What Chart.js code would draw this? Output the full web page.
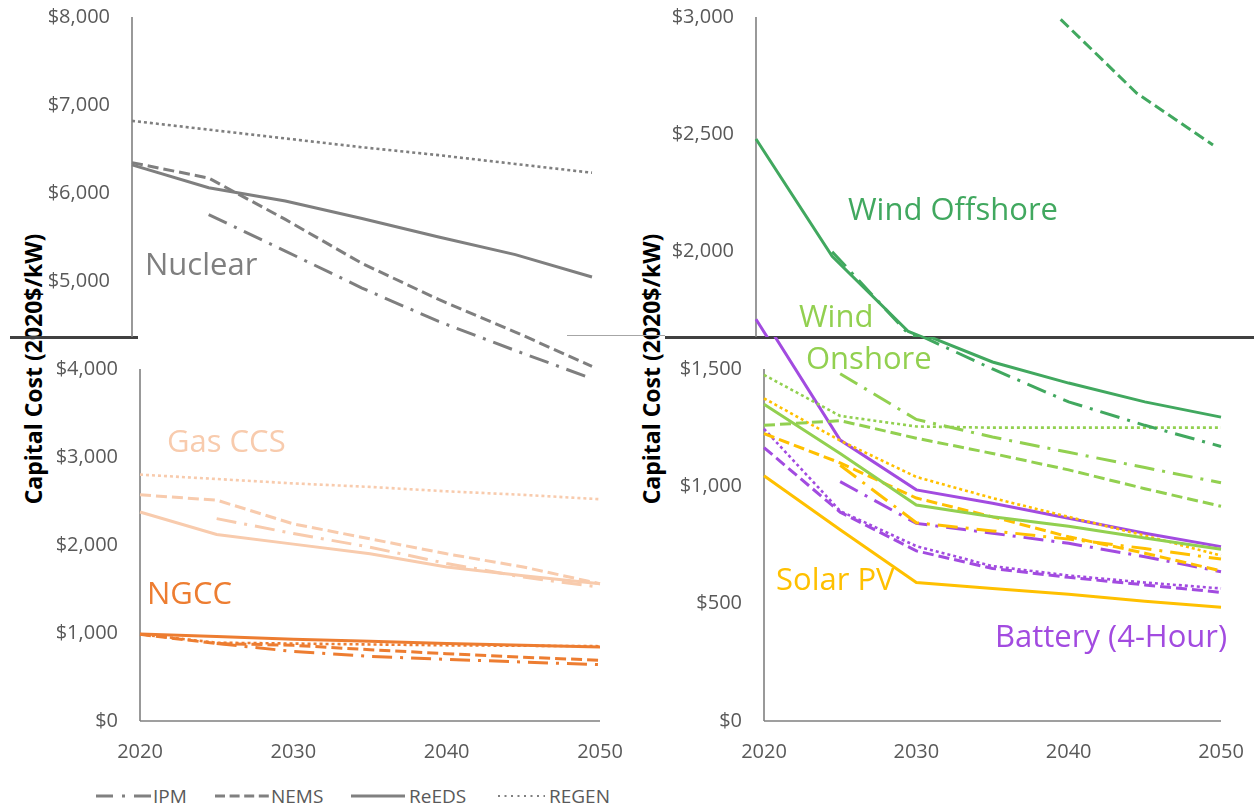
<!DOCTYPE html>
<html>
<head>
<meta charset="utf-8">
<script src="https://cdn.jsdelivr.net/npm/chart.js@4.4.1/dist/chart.umd.min.js"></script>
<style>
  body { margin: 0; background: #fff; }
  #page { position: relative; width: 1254px; height: 807px; overflow: hidden; font-family: 'Open Sans', sans-serif; }
  canvas { position: absolute; top: 0; z-index: 3; }
  .lbl { position: absolute; z-index: 4; font-size: 31px; line-height: 31px; white-space: nowrap; }
  .ytitle { position: absolute; z-index: 1; width: 400px; height: 24px; line-height: 24px; text-align: center;
            font-weight: bold; font-size: 23px; color: #000; transform: rotate(-90deg); }
  .brk { position: absolute; z-index: 2; }
  .leg { position: absolute; z-index: 4; top: 785px; font-size: 19px; line-height: 22px; color: #595959; }
  .legline { position: absolute; z-index: 4; top: 791px; }
</style>
</head>
<body>
<div id="page">
  <div class="ytitle" style="left:-167px; top:357px;">Capital Cost (2020$/kW)</div>
  <div class="ytitle" style="left:451px; top:357px;">Capital Cost (2020$/kW)</div>

  <div class="brk" style="left:10px; top:336px; width:128px; height:3px; background:#404040;"></div>
  <div class="brk" style="left:567px; top:335px; width:98px; height:1px; background:#a6a6a6;"></div>
  <div class="brk" style="left:665px; top:336px; width:589px; height:3px; background:#404040;"></div>

  <canvas id="leftBottom" width="630" height="770" style="left:0;"></canvas>
  <canvas id="leftTop" width="630" height="770" style="left:0;"></canvas>
  <canvas id="rightBottom" width="624" height="770" style="left:630px;"></canvas>
  <canvas id="rightTop" width="624" height="770" style="left:630px;"></canvas>

  <div class="lbl" style="left:145px; top:248px; color:#7f7f7f;">Nuclear</div>
  <div class="lbl" style="left:167px; top:425px; color:#f8cbad;">Gas CCS</div>
  <div class="lbl" style="left:147px; top:577px; color:#ed7d31;">NGCC</div>
  <div class="lbl" style="left:848px; top:193px; color:#41a85f;">Wind Offshore</div>
  <div class="lbl" style="left:799px; top:300px; color:#92d050;">Wind</div>
  <div class="lbl" style="left:806px; top:342px; color:#92d050;">Onshore</div>
  <div class="lbl" style="left:776px; top:563px; color:#ffc000;">Solar PV</div>
  <div class="lbl" style="left:995px; top:620px; color:#a24be0;">Battery (4-Hour)</div>

  <svg class="legline" style="left:96px;" width="56" height="10"><line x1="0" y1="5" x2="56" y2="5" stroke="#808080" stroke-width="3" stroke-dasharray="17 9 3 9"/></svg>
  <div class="leg" style="left:153px;">IPM</div>
  <svg class="legline" style="left:215px;" width="54" height="10"><line x1="0" y1="5" x2="54" y2="5" stroke="#808080" stroke-width="3" stroke-dasharray="10 4.6"/></svg>
  <div class="leg" style="left:271px;">NEMS</div>
  <svg class="legline" style="left:351px;" width="54" height="10"><line x1="0" y1="5" x2="54" y2="5" stroke="#808080" stroke-width="3"/></svg>
  <div class="leg" style="left:409px;">ReEDS</div>
  <svg class="legline" style="left:498px;" width="47" height="10"><line x1="0" y1="5" x2="47" y2="5" stroke="#808080" stroke-width="2" stroke-dasharray="2 4.5"/></svg>
  <div class="leg" style="left:549px;">REGEN</div>
</div>

<script>
// eixo x (anos) e rotulos que aparecem
var years = ['2020', '2025', '2030', '2035', '2040', '2045', '2050'];
var xTickYears = ['2020', '2030', '2040', '2050'];

// ticks do eixo y (cada painel tem a parte de cima e a de baixo)
var leftTopTicks = [5000, 6000, 7000, 8000];
var leftBottomTicks = [0, 1000, 2000, 3000, 4000];
var rightTopTicks = [2000, 2500, 3000];
var rightBottomTicks = [0, 500, 1000, 1500];

// Nuclear
var nuclearIPM   = [null, 5755, 5340, 4920, 4540, 4210, 3890];
var nuclearNEMS  = [6345, 6170, 5700, 5200, 4790, 4420, 4030];
var nuclearReEDS = [6320, 6060, 5910, 5710, 5500, 5300, 5045];
var nuclearREGEN = [6820, 6720, 6620, 6520, 6430, 6330, 6230];

// Gas CCS
var gasccsIPM   = [null, 2300, 2130, 1975, 1790, 1635, 1520];
var gasccsNEMS  = [2570, 2510, 2240, 2070, 1900, 1750, 1560];
var gasccsReEDS = [2375, 2120, 2010, 1900, 1750, 1650, 1560];
var gasccsREGEN = [2800, 2750, 2700, 2660, 2610, 2570, 2520];

// NGCC
var ngccIPM   = [null, 880, 790, 735, 700, 670, 640];
var ngccNEMS  = [985, 880, 860, 810, 765, 725, 690];
var ngccReEDS = [990, 960, 930, 905, 880, 860, 840];
var ngccREGEN = [985, 890, 880, 870, 860, 855, 850];

// Wind Offshore
var offshoreIPM   = [null, 2000, 1650, 1500, 1360, 1260, 1170];
var offshoreNEMS  = [null, null, null, null, 2990, 2675, 2455];
var offshoreReEDS = [2480, 1980, 1660, 1530, 1440, 1360, 1295];

// Wind Onshore
var onshoreIPM   = [null, 1480, 1285, 1210, 1145, 1080, 1015];
var onshoreNEMS  = [1260, 1280, 1205, 1140, 1070, 990, 915];
var onshoreReEDS = [1350, 1140, 920, 870, 830, 780, 732];
var onshoreREGEN = [1475, 1300, 1255, 1250, 1250, 1250, 1250];

// Solar PV
var solarIPM   = [null, 1090, 845, 810, 775, 735, 690];
var solarNEMS  = [1225, 1100, 950, 870, 785, 715, 640];
var solarReEDS = [1045, 815, 590, 565, 540, 510, 485];
var solarREGEN = [1375, 1195, 1040, 950, 870, 790, 705];

// Battery (4-Hour)
var batteryIPM   = [null, 1020, 842, 800, 757, 700, 636];
var batteryNEMS  = [1165, 890, 725, 650, 612, 580, 548];
var batteryReEDS = [1712, 1197, 985, 928, 864, 800, 743];
var batteryREGEN = [1245, 895, 745, 660, 620, 590, 565];

var cores = {
  nuclear: '#7f7f7f', gasccs: '#f8cbad', ngcc: '#ed7d31',
  offshore: '#41a85f', onshore: '#92d050', solar: '#ffc000', battery: '#a24be0'
};
var tracos = { IPM: [20, 8, 3, 8], NEMS: [11, 5], ReEDS: [], REGEN: [3, 3] };
var tickFont = { family: "'Open Sans', sans-serif", size: 20 };
var BREAK_Y = 337; // linha de quebra do eixo (px)

function serie(valores, cor, modelo, clip) {
  var d = {
    data: valores, borderColor: cor, borderWidth: modelo == 'REGEN' ? 2.6 : 3,
    borderDash: tracos[modelo], pointRadius: 0, fill: false, tension: 0
  };
  if (clip) d.clip = clip;
  return d;
}

// desenha os eixos (linha vertical so ate a quebra)
var axisLines = {
  id: 'axisLines',
  beforeDatasetsDraw: function (chart, args, o) {
    var ctx = chart.ctx, a = chart.chartArea, ys = chart.scales.y;
    var topo = ys.getPixelForValue(o.fromValue);
    var fim = o.toPx ? o.toPx : a.bottom;
    ctx.save();
    ctx.strokeStyle = '#808080';
    ctx.lineWidth = 1.6;
    ctx.beginPath();
    ctx.moveTo(a.left, topo);
    ctx.lineTo(a.left, fim);
    if (o.baseline) {
      ctx.moveTo(a.left, a.bottom);
      ctx.lineTo(a.right, a.bottom);
    }
    ctx.stroke();
    ctx.restore();
  }
};

function grafico(id, cfg) {
  return new Chart(document.getElementById(id), {
    type: 'line',
    data: { labels: years, datasets: cfg.datasets },
    options: {
      responsive: false,
      animation: false,
      layout: { padding: { top: 17, right: cfg.padRight, left: 0, bottom: 0 } },
      plugins: { legend: { display: false }, tooltip: { enabled: false }, axisLines: cfg.axis },
      scales: {
        x: {
          grid: { display: false, drawTicks: false },
          border: { display: false },
          ticks: {
            display: cfg.showX,
            autoSkip: false, maxRotation: 0, padding: 19, color: '#595959', font: tickFont,
            callback: function (v, i) { return xTickYears.indexOf(years[i]) >= 0 ? years[i] : ''; }
          },
          afterFit: function (s) {
            s.height = 49;
            s.paddingLeft = 0; s.paddingRight = 0; s.paddingTop = 0; s.paddingBottom = 0;
          }
        },
        y: {
          min: 0, max: cfg.max,
          grid: { display: false, drawTicks: false },
          border: { display: false },
          afterBuildTicks: function (s) { s.ticks = cfg.ticks.map(function (v) { return { value: v }; }); },
          ticks: {
            padding: 22, color: '#595959', font: tickFont,
            callback: function (v) { return '$' + v.toLocaleString('en-US'); }
          },
          afterFit: function (s) {
            s.width = cfg.axisX;
            s.paddingTop = 0; s.paddingBottom = 0; s.paddingLeft = 0; s.paddingRight = 0;
          }
        }
      }
    },
    plugins: [axisLines]
  });
}

// painel esquerdo - parte de baixo
grafico('leftBottom', {
  max: 8000, ticks: leftBottomTicks, axisX: 140, padRight: 30, showX: true,
  axis: { fromValue: 4000, baseline: true },
  datasets: [
    serie(gasccsREGEN, cores.gasccs, 'REGEN'),
    serie(gasccsNEMS, cores.gasccs, 'NEMS'),
    serie(gasccsIPM, cores.gasccs, 'IPM'),
    serie(gasccsReEDS, cores.gasccs, 'ReEDS'),
    serie(ngccREGEN, cores.ngcc, 'REGEN'),
    serie(ngccIPM, cores.ngcc, 'IPM'),
    serie(ngccNEMS, cores.ngcc, 'NEMS'),
    serie(ngccReEDS, cores.ngcc, 'ReEDS')
  ]
});

// painel esquerdo - parte de cima (nuclear)
grafico('leftTop', {
  max: 8000, ticks: leftTopTicks, axisX: 132, padRight: 38, showX: false,
  axis: { fromValue: 8000, toPx: BREAK_Y },
  datasets: [
    serie(nuclearREGEN, cores.nuclear, 'REGEN'),
    serie(nuclearIPM, cores.nuclear, 'IPM'),
    serie(nuclearNEMS, cores.nuclear, 'NEMS'),
    serie(nuclearReEDS, cores.nuclear, 'ReEDS')
  ]
});

// painel direito - parte de baixo (corta o que passa acima da quebra)
var clipBaixo = { left: 3, right: 3, bottom: 3, top: -(BREAK_Y - 17) };
grafico('rightBottom', {
  max: 3000, ticks: rightBottomTicks, axisX: 134, padRight: 33, showX: true,
  axis: { fromValue: 1500, baseline: true },
  datasets: [
    serie(offshoreIPM, cores.offshore, 'IPM', clipBaixo),
    serie(offshoreReEDS, cores.offshore, 'ReEDS', clipBaixo),
    serie(onshoreREGEN, cores.onshore, 'REGEN'),
    serie(onshoreIPM, cores.onshore, 'IPM'),
    serie(onshoreNEMS, cores.onshore, 'NEMS'),
    serie(onshoreReEDS, cores.onshore, 'ReEDS'),
    serie(solarREGEN, cores.solar, 'REGEN'),
    serie(solarIPM, cores.solar, 'IPM'),
    serie(solarNEMS, cores.solar, 'NEMS'),
    serie(solarReEDS, cores.solar, 'ReEDS'),
    serie(batteryREGEN, cores.battery, 'REGEN'),
    serie(batteryNEMS, cores.battery, 'NEMS'),
    serie(batteryIPM, cores.battery, 'IPM'),
    serie(batteryReEDS, cores.battery, 'ReEDS', clipBaixo)
  ]
});

// painel direito - parte de cima (so ate a quebra)
var clipCima = { left: 3, right: 3, top: 3, bottom: -(721 - BREAK_Y) };
grafico('rightTop', {
  max: 3000, ticks: rightTopTicks, axisX: 126, padRight: 41, showX: false,
  axis: { fromValue: 3000, toPx: BREAK_Y },
  datasets: [
    serie(offshoreNEMS, cores.offshore, 'NEMS', clipCima),
    serie(offshoreIPM, cores.offshore, 'IPM', clipCima),
    serie(offshoreReEDS, cores.offshore, 'ReEDS', clipCima),
    serie(batteryReEDS, cores.battery, 'ReEDS', clipCima)
  ]
});
</script>
</body>
</html>
